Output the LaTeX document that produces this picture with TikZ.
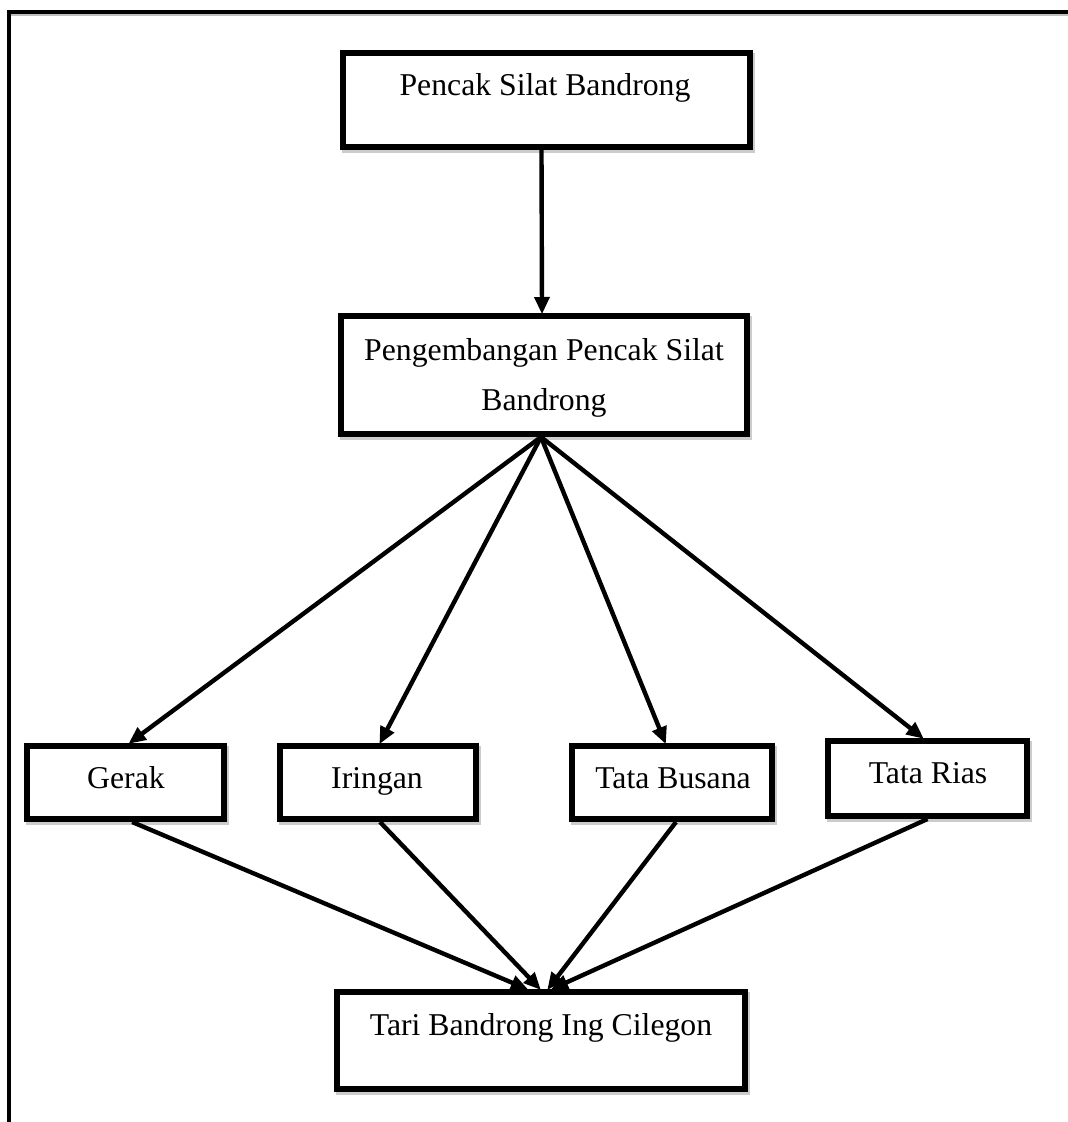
\documentclass[tikz,border=0pt]{standalone}
\usepackage{fontspec}
\setmainfont{Liberation Serif}
\usetikzlibrary{arrows.meta,calc}
\tikzset{
  box/.style={draw=black, fill=white, line width=4.5pt, inner sep=0pt, rectangle,
    preaction={draw=black!20, fill=black!20, line width=4.5pt,
      transform canvas={shift={(1.5pt,-2.5pt)}}}},
  lbl/.style={anchor=base, inner sep=0pt, font=\fontsize{23.8pt}{28pt}\selectfont},
  conn/.style={line width=3.3pt, -{Triangle[length=13pt,width=11pt]}, shorten >=-1pt}
}
\begin{document}
\begin{tikzpicture}[x=0.75pt,y=-0.75pt]
\useasboundingbox (0,0) rectangle (1068,1122);
% outer frame
\draw[black!25, line width=2pt] (11,14.5) -- (1068,14.5);
\draw[line width=3pt] (9,1122) -- (9,12) -- (1068,12);
% boxes
\node[box, minimum width=305.25pt, minimum height=70.5pt] (b1) at (546.5,100) {};
\node[box, minimum width=304.5pt, minimum height=88.5pt] (b2) at (544,375) {};
\node[box, minimum width=147.75pt, minimum height=54.75pt] (g) at (125.5,782.5) {};
\node[box, minimum width=147pt, minimum height=54.75pt] (i) at (378,782.5) {};
\node[box, minimum width=150pt, minimum height=54.75pt] (tb) at (672,782.5) {};
\node[box, minimum width=149.25pt, minimum height=56.25pt] (tr) at (927.5,778.5) {};
\node[box, minimum width=306pt, minimum height=72.75pt] (t) at (541,1040.5) {};
% labels
\node[lbl] (l1) at (545,95) {Pencak Silat Bandrong};
\node[lbl] (l2a) at (544,360) {Pengembangan Pencak Silat};
\node[lbl] (l2b) at (544,410) {Bandrong};
\node[lbl] (lg) at (126,788) {Gerak};
\node[lbl] (li) at (377,788) {Iringan};
\node[lbl] (ltb) at (673,788) {Tata Busana};
\node[lbl] (ltr) at (928,783) {Tata Rias};
\node[lbl] (lt) at (541,1035) {Tari Bandrong Ing Cilegon};
% connectors
\draw[conn] ([xshift=-3.75pt]b1.south) -- ([xshift=-1.5pt]b2.north);
\draw[conn] ([xshift=-2.25pt]b2.south) -- ([xshift=3pt]g.north);
\draw[conn] ([xshift=-2.25pt]b2.south) -- ([xshift=1.5pt]i.north);
\draw[conn] ([xshift=-2.25pt]b2.south) -- ([xshift=-5pt]tb.north);
\draw[conn] ([xshift=-2.25pt]b2.south) -- ([xshift=-3.5pt]tr.north);
\draw[conn] ([xshift=5pt]g.south) -- ([xshift=-10.5pt]t.north);
\draw[conn] ([xshift=1.5pt]i.south) -- ([xshift=-0.75pt]t.north);
\draw[conn] ([xshift=3pt]tb.south) -- ([xshift=5.25pt]t.north);
\draw[conn] ([xshift=0pt]tr.south) -- ([xshift=8.25pt]t.north);
\end{tikzpicture}
\end{document}
